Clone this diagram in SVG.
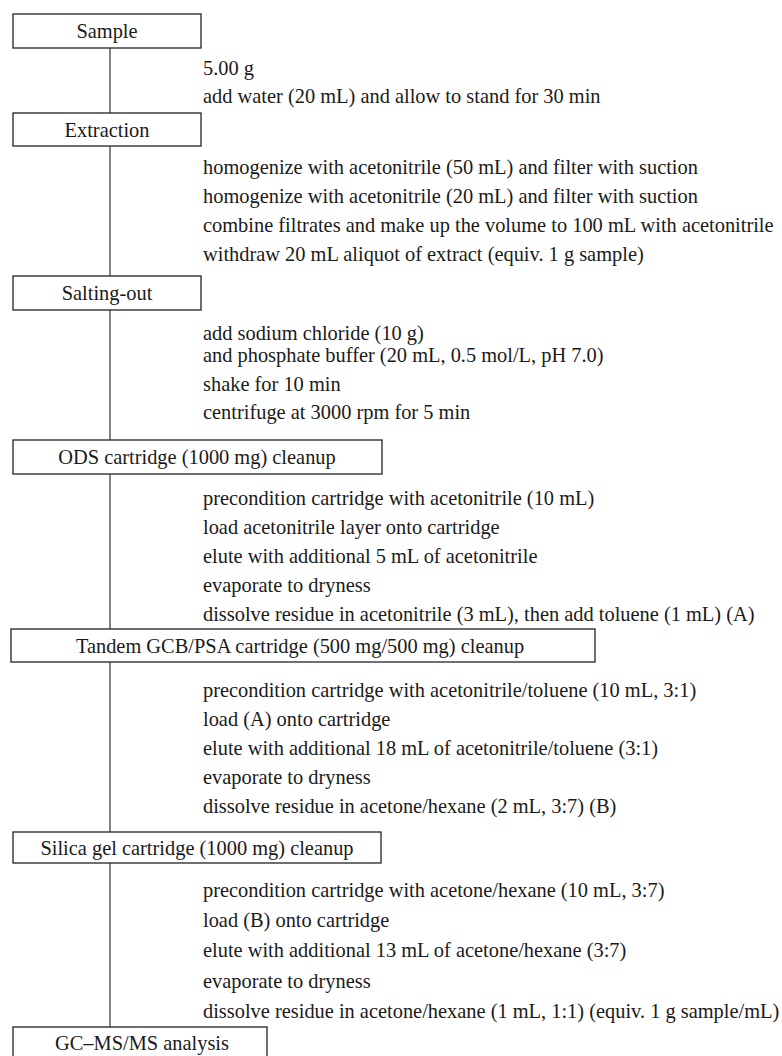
<svg xmlns="http://www.w3.org/2000/svg" width="782" height="1056" viewBox="0 0 782 1056">
<style>
.bg{fill:#ffffff}
.box{fill:#ffffff;stroke:#222;stroke-width:1.3}
.lbl{font-family:"Liberation Serif","Times New Roman",serif;font-size:20.4px;fill:#1a1a1a;text-anchor:middle}
.step{font-family:"Liberation Serif","Times New Roman",serif;font-size:20.4px;fill:#1a1a1a}
.con{stroke:#333;stroke-width:1.2;fill:none}
</style>
<rect class="bg" x="0" y="0" width="782" height="1056"/>
<g id="connectors">
<line class="con" x1="110" y1="48" x2="110" y2="113"/>
<line class="con" x1="110" y1="146" x2="110" y2="276"/>
<line class="con" x1="110" y1="310" x2="110" y2="440"/>
<line class="con" x1="110" y1="474" x2="110" y2="629"/>
<line class="con" x1="110" y1="662" x2="110" y2="832"/>
<line class="con" x1="110" y1="863" x2="110" y2="1027"/>
</g>
<g id="sample">
<rect class="box" x="13" y="14" width="188" height="34"/>
<text class="lbl" x="107" y="38">Sample</text>
</g>
<g id="sample-steps">
<text class="step" x="203" y="75">5.00 g</text>
<text class="step" x="203" y="103">add water (20 mL) and allow to stand for 30 min</text>
</g>
<g id="extraction">
<rect class="box" x="13" y="113" width="188" height="33"/>
<text class="lbl" x="107" y="137">Extraction</text>
</g>
<g id="extraction-steps">
<text class="step" x="203" y="174">homogenize with acetonitrile (50 mL) and filter with suction</text>
<text class="step" x="203" y="203">homogenize with acetonitrile (20 mL) and filter with suction</text>
<text class="step" x="203" y="232">combine filtrates and make up the volume to 100 mL with acetonitrile</text>
<text class="step" x="203" y="261">withdraw 20 mL aliquot of extract (equiv. 1 g sample)</text>
</g>
<g id="salting-out">
<rect class="box" x="13" y="276" width="188" height="34"/>
<text class="lbl" x="107" y="300">Salting-out</text>
</g>
<g id="salting-steps">
<text class="step" x="203" y="340">add sodium chloride (10 g)</text>
<text class="step" x="203" y="362">and phosphate buffer (20 mL, 0.5 mol/L, pH 7.0)</text>
<text class="step" x="203" y="391">shake for 10 min</text>
<text class="step" x="203" y="419">centrifuge at 3000 rpm for 5 min</text>
</g>
<g id="ods">
<rect class="box" x="13" y="440" width="369" height="34"/>
<text class="lbl" x="197" y="464">ODS cartridge (1000 mg) cleanup</text>
</g>
<g id="ods-steps">
<text class="step" x="203" y="505">precondition cartridge with acetonitrile (10 mL)</text>
<text class="step" x="203" y="534">load acetonitrile layer onto cartridge</text>
<text class="step" x="203" y="563">elute with additional 5 mL of acetonitrile</text>
<text class="step" x="203" y="592">evaporate to dryness</text>
<text class="step" x="203" y="621">dissolve residue in acetonitrile (3 mL), then add toluene (1 mL) (A)</text>
</g>
<g id="tandem">
<rect class="box" x="11" y="629" width="584" height="33"/>
<text class="lbl" x="300" y="653">Tandem GCB/PSA cartridge (500 mg/500 mg) cleanup</text>
</g>
<g id="tandem-steps">
<text class="step" x="203" y="697">precondition cartridge with acetonitrile/toluene (10 mL, 3:1)</text>
<text class="step" x="203" y="726">load (A) onto cartridge</text>
<text class="step" x="203" y="755">elute with additional 18 mL of acetonitrile/toluene (3:1)</text>
<text class="step" x="203" y="784">evaporate to dryness</text>
<text class="step" x="203" y="813">dissolve residue in acetone/hexane (2 mL, 3:7) (B)</text>
</g>
<g id="silica">
<rect class="box" x="13" y="832" width="368" height="31"/>
<text class="lbl" x="197" y="855">Silica gel cartridge (1000 mg) cleanup</text>
</g>
<g id="silica-steps">
<text class="step" x="203" y="897">precondition cartridge with acetone/hexane (10 mL, 3:7)</text>
<text class="step" x="203" y="927">load (B) onto cartridge</text>
<text class="step" x="203" y="957">elute with additional 13 mL of acetone/hexane (3:7)</text>
<text class="step" x="203" y="988">evaporate to dryness</text>
<text class="step" x="203" y="1018">dissolve residue in acetone/hexane (1 mL, 1:1) (equiv. 1 g sample/mL)</text>
</g>
<g id="gcms">
<rect class="box" x="13" y="1027" width="254" height="40"/>
<text class="lbl" x="142" y="1050">GC–MS/MS analysis</text>
</g>
</svg>
